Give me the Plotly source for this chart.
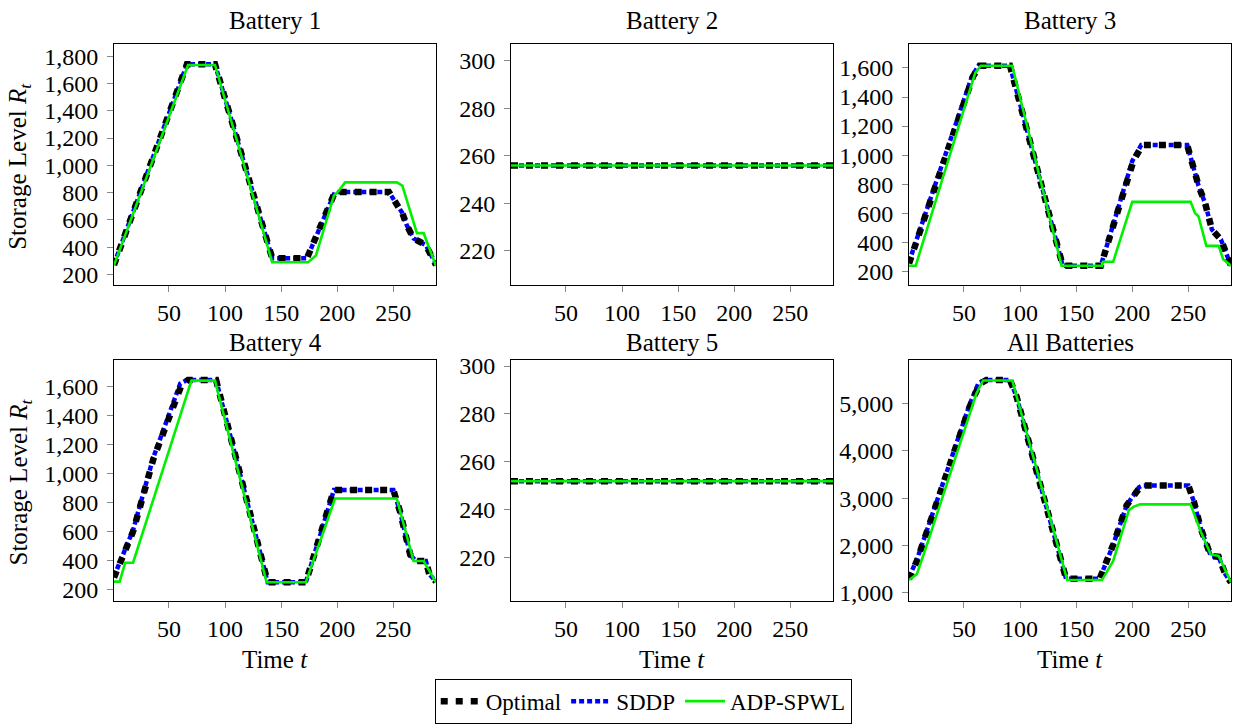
import plotly.graph_objects as go

# ---------------- data ----------------
# Battery 1
b1_opt_t = [1, 66, 91, 142, 173, 198, 246, 258, 262, 268, 279, 288]
b1_opt_v = [270, 1740, 1740, 320, 320, 805, 805, 650, 560, 465, 415, 270]
b1_sddp_t = [1, 66, 91, 142, 173, 198, 246, 258, 262, 268, 279, 288]
b1_sddp_v = [275, 1740, 1740, 320, 320, 805, 805, 650, 560, 465, 415, 275]
b1_adp_t = [1, 67, 91, 142, 174, 181, 197, 201, 207, 253, 258, 271, 277, 288]
b1_adp_v = [267, 1735, 1735, 290, 290, 340, 778, 810, 875, 875, 851, 503, 503, 262]

# Battery 2
b2_t = [1, 288]
b2_opt_v = [256, 256]
b2_sddp_v = [256, 256]
b2_adp_v = [256, 256]

# Battery 3
b3_opt_t = [1, 58, 64, 91, 138, 172, 201, 209, 249, 259, 265, 271, 279, 288]
b3_opt_v = [255, 1540, 1615, 1615, 240, 240, 960, 1070, 1070, 791, 668, 488, 420, 240]
b3_sddp_t = [1, 57, 63, 91, 138, 172, 200, 208, 249, 259, 265, 271, 279, 288]
b3_sddp_v = [265, 1540, 1615, 1615, 240, 240, 960, 1070, 1070, 791, 668, 488, 420, 240]
b3_adp_t = [1, 7, 60, 65, 93, 137, 173, 174, 183, 200, 252, 256, 259, 266, 277, 281, 288]
b3_adp_v = [240, 240, 1566, 1615, 1615, 240, 240, 267, 267, 679, 679, 600, 580, 376, 376, 285, 240]

# Battery 4
b4_opt_t = [1, 6, 18, 36, 54, 61, 67, 92, 138, 172, 197, 250, 256, 265, 270, 279, 282, 288]
b4_opt_v = [283, 374, 600, 1098, 1460, 1607, 1645, 1645, 250, 250, 887, 887, 736, 441, 397, 397, 306, 255]
b4_sddp_t = [1, 6, 18, 36, 54, 60, 66, 92, 138, 172, 197, 250, 256, 265, 270, 279, 282, 288]
b4_sddp_v = [290, 380, 610, 1110, 1480, 1620, 1645, 1645, 250, 250, 887, 887, 736, 441, 397, 397, 306, 255]
b4_adp_t = [1, 6, 11, 18, 70, 91, 137, 172, 198, 253, 268, 277, 288]
b4_adp_v = [255, 255, 385, 385, 1641, 1641, 250, 250, 828, 828, 397, 397, 250]

# Battery 5
b5_t = [1, 288]
b5_opt_v = [252, 252]
b5_sddp_v = [252, 252]
b5_adp_v = [252, 252]

# All batteries
ba_opt_t = [1, 8, 26, 40, 55, 64, 70, 91, 97, 115, 130, 139, 141, 171, 183, 195, 207, 210, 250, 255, 261, 270, 277, 283, 288]
ba_opt_v = [1291, 1673, 2921, 3891, 4931, 5417, 5500, 5500, 5139, 3546, 2228, 1395, 1300, 1300, 2019, 2851, 3234, 3268, 3268, 2921, 2366, 1778, 1760, 1395, 1222]
ba_sddp_t = [1, 8, 26, 40, 55, 63, 69, 91, 97, 115, 130, 139, 141, 171, 183, 195, 206, 209, 250, 255, 261, 270, 277, 283, 288]
ba_sddp_v = [1330, 1700, 2950, 3930, 4980, 5440, 5500, 5500, 5139, 3546, 2228, 1395, 1300, 1300, 2019, 2851, 3234, 3268, 3268, 2921, 2366, 1778, 1760, 1395, 1222]
ba_adp_t = [1, 8, 18, 61, 67, 93, 142, 173, 183, 197, 201, 207, 252, 261, 270, 277, 288]
ba_adp_v = [1270, 1395, 2090, 5209, 5490, 5490, 1270, 1270, 1673, 2747, 2817, 2870, 2870, 2297, 1811, 1780, 1222]

titles = ["Battery 1", "Battery 2", "Battery 3", "Battery 4", "Battery 5", "All Batteries"]
x_ticks = [50, 100, 150, 200, 250]
y_ticks = [
    [200, 400, 600, 800, 1000, 1200, 1400, 1600, 1800],
    [220, 240, 260, 280, 300],
    [200, 400, 600, 800, 1000, 1200, 1400, 1600],
    [200, 400, 600, 800, 1000, 1200, 1400, 1600],
    [220, 240, 260, 280, 300],
    [1000, 2000, 3000, 4000, 5000],
]
y_ranges = [[121, 1886], [205.5, 307], [105, 1762], [121, 1783], [202, 302.5], [827, 5921]]
x_range = [1, 288]
series_names = ["Optimal", "SDDP", "ADP-SPWL"]

panels = [
    ((b1_opt_t, b1_opt_v), (b1_sddp_t, b1_sddp_v), (b1_adp_t, b1_adp_v)),
    ((b2_t, b2_opt_v), (b2_t, b2_sddp_v), (b2_t, b2_adp_v)),
    ((b3_opt_t, b3_opt_v), (b3_sddp_t, b3_sddp_v), (b3_adp_t, b3_adp_v)),
    ((b4_opt_t, b4_opt_v), (b4_sddp_t, b4_sddp_v), (b4_adp_t, b4_adp_v)),
    ((b5_t, b5_opt_v), (b5_t, b5_sddp_v), (b5_t, b5_adp_v)),
    ((ba_opt_t, ba_opt_v), (ba_sddp_t, ba_sddp_v), (ba_adp_t, ba_adp_v)),
]

# ---------------- layout geometry ----------------
W, H = 1237, 725
col_px = [(114, 436), (511, 833), (909, 1231)]
row_px = [(38, 283), (359, 604)]
title_centre_px = [14, 341]
FONT = "Liberation Serif"
TICK_SIZE = 24
TEXT_SIZE = 25

fig = go.Figure()

styles = {
    "Optimal": dict(color="black", width=6.5, dash="7px,8px"),
    "SDDP": dict(color="#0000ff", width=4.5, dash="5px,3px"),
    "ADP-SPWL": dict(color="#00f000", width=2.6, dash="solid"),
}
draw_order = ["SDDP", "Optimal", "ADP-SPWL"]
rank = {"Optimal": 1, "SDDP": 2, "ADP-SPWL": 3}

annotations = []
for i, panel in enumerate(panels):
    r, c = divmod(i, 3)
    ax = "" if i == 0 else str(i + 1)
    data = dict(zip(series_names, panel))
    for name in draw_order:
        t, v = data[name]
        fig.add_trace(go.Scatter(
            x=t, y=v, mode="lines", name=name,
            line=styles[name],
            xaxis="x" + ax, yaxis="y" + ax,
            showlegend=(i == 0), legendrank=rank[name],
        ))
    x0, x1 = col_px[c]
    y0, y1 = row_px[r]
    common = dict(
        showline=True, linecolor="black", linewidth=1, mirror=True,
        ticks="outside", ticklen=6, tickcolor="#888888", tickwidth=1,
        showgrid=False, zeroline=False,
        tickfont=dict(family=FONT, size=TICK_SIZE, color="black"),
    )
    fig.layout["xaxis" + ax] = dict(
        common, domain=[x0 / W, x1 / W], anchor="y" + ax,
        range=x_range, tickvals=x_ticks, ticklabelstandoff=0,
    )
    fig.layout["yaxis" + ax] = dict(
        common, domain=[1 - y1 / H, 1 - y0 / H], anchor="x" + ax,
        range=y_ranges[i], tickvals=y_ticks[i], tickformat=",d",
        ticklabelstandoff=4,
    )
    annotations.append(dict(
        text=titles[i], x=(x0 + x1) / 2 / W, y=1 - title_centre_px[r] / H,
        xref="paper", yref="paper", xanchor="center", yanchor="middle",
        showarrow=False, font=dict(family=FONT, size=TEXT_SIZE, color="black"),
    ))

for r in range(2):
    y0, y1 = row_px[r]
    annotations.append(dict(
        text="Storage Level <i>R</i><sub><i>t</i></sub>", x=20 / W,
        y=1 - ((y0 + y1) / 2 + 2) / H, xref="paper", yref="paper",
        xanchor="center", yanchor="middle", textangle=-90, showarrow=False,
        font=dict(family=FONT, size=TEXT_SIZE, color="black"),
    ))
for c in range(3):
    x0, x1 = col_px[c]
    annotations.append(dict(
        text="Time <i>t</i>", x=(x0 + x1) / 2 / W, y=1 - 663 / H,
        xref="paper", yref="paper", xanchor="center", yanchor="middle",
        showarrow=False, font=dict(family=FONT, size=TEXT_SIZE, color="black"),
    ))

fig.update_layout(
    width=W, height=H, margin=dict(l=0, r=0, t=0, b=0),
    paper_bgcolor="white", plot_bgcolor="white",
    annotations=annotations,
    legend=dict(
        orientation="h", x=0.52, xanchor="center", y=1 - 683 / H, yanchor="top",
        bordercolor="black", borderwidth=1, bgcolor="white",
        font=dict(family=FONT, size=23, color="black"),
        itemwidth=40, tracegroupgap=0,
    ),
    font=dict(family=FONT, color="black"),
)

fig.write_html("out.html")
